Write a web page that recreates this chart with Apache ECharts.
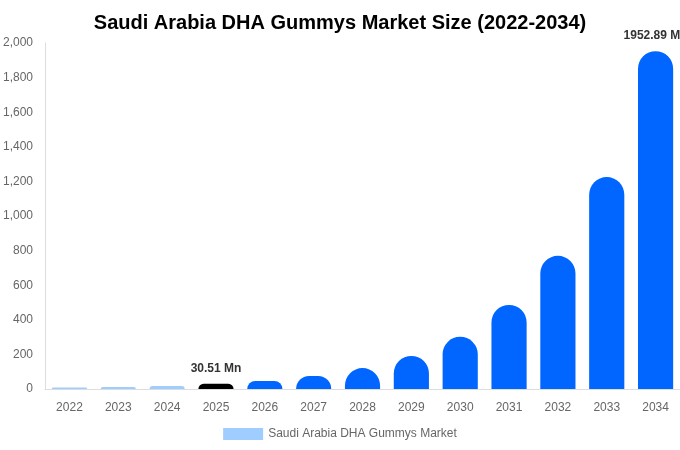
<!DOCTYPE html>
<html lang="en">
<head>
    <meta charset="UTF-8">
    <title>Saudi Arabia DHA Gummys Market Size</title>
    <script src="https://cdn.jsdelivr.net/npm/echarts@6/dist/echarts.min.js"></script>
    <style>
        html, body { margin: 0; padding: 0; background: #fff; }
        #main { width: 680px; height: 450px; }
    </style>
</head>
<body>
    <div id="main"></div>
    <script type="text/javascript">
        var years = ['2022', '2023', '2024', '2025', '2026', '2027', '2028', '2029', '2030', '2031', '2032', '2033', '2034'];
        var marketSize = [8, 12, 18, 30.51, 46, 75, 121, 191, 302, 486, 770, 1225, 1952.89];
        var labelYears = ['2025', '2034'];
        var yTicks = [0, 200, 400, 600, 800, 1000, 1200, 1400, 1600, 1800, 2000];

        var barData = marketSize.map(function (v, i) {
            var color = '#0066ff';
            if (i < 3) color = '#a0cdff';
            if (years[i] === '2025') color = '#000000';
            var item = { value: v, itemStyle: { color: color } };
            if (labelYears.indexOf(years[i]) >= 0) {
                item.label = {
                    show: true,
                    position: 'top',
                    distance: 9,
                    formatter: v.toFixed(2) + ' Mn',
                    fontWeight: 'bold',
                    fontSize: 12,
                    color: '#333',
                    fontFamily: 'Liberation Sans, Arial, sans-serif'
                };
            }
            return item;
        });

        var myChart = echarts.init(document.getElementById('main'));
        var option = {
            animation: false,
            textStyle: { fontFamily: 'Liberation Sans, Arial, sans-serif' },
            title: {
                text: 'Saudi Arabia DHA Gummys Market Size (2022-2034)',
                left: 'center',
                top: 8,
                textStyle: { fontSize: 20, fontWeight: 'bold', color: '#000' }
            },
            legend: {
                bottom: 5,
                left: 'center',
                itemWidth: 40,
                itemHeight: 12,
                icon: 'rect',
                textStyle: { color: '#666', fontSize: 12 },
                data: [{ name: 'Saudi Arabia DHA Gummys Market', itemStyle: { color: '#a0cdff' } }]
            },
            grid: { left: 44, right: 0, top: 43, bottom: 61 },
            xAxis: {
                type: 'category',
                data: years,
                axisLine: { lineStyle: { color: '#ddd' } },
                axisTick: { show: false },
                axisLabel: { color: '#666', fontSize: 12, margin: 13 }
            },
            yAxis: {
                type: 'value',
                min: yTicks[0],
                max: yTicks[yTicks.length - 1],
                interval: 200,
                axisLine: { show: true, lineStyle: { color: '#ddd' } },
                splitLine: { show: false },
                axisLabel: {
                    color: '#666',
                    fontSize: 12,
                    margin: 12,
                    formatter: function (v) { return v.toLocaleString('en-US'); }
                }
            },
            series: [{
                name: 'Saudi Arabia DHA Gummys Market',
                type: 'bar',
                barWidth: '72%',
                itemStyle: { borderRadius: [18, 18, 0, 0] },
                data: barData
            }]
        };
        myChart.setOption(option);
    </script>
</body>
</html>
